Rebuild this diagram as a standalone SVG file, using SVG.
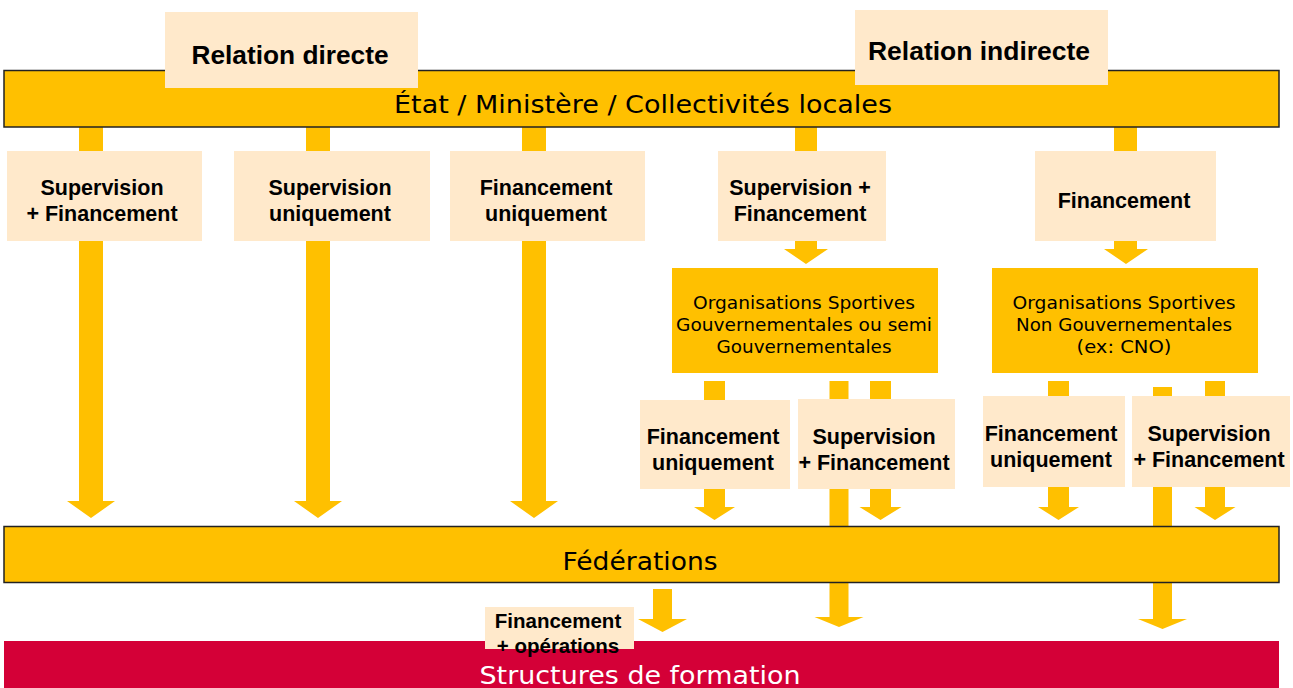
<svg xmlns="http://www.w3.org/2000/svg" width="1293" height="688" viewBox="0 0 1293 688">
<style>
.arr{fill:#FFC000}
.bar{fill:#FFC000;stroke:#222;stroke-width:1.5}
.org{fill:#FFC000}
.lbl{fill:#FFE9CB}
.t{font-family:"Liberation Sans",Arial,sans-serif;font-weight:bold;font-size:21.5px;fill:#000;text-anchor:middle}
.h{font-family:"Liberation Sans",Arial,sans-serif;font-weight:bold;font-size:25px;fill:#000;text-anchor:middle}
.v{font-family:"DejaVu Sans",Verdana,sans-serif;font-size:25px;fill:#000;text-anchor:middle}
.o{font-family:"DejaVu Sans",Verdana,sans-serif;font-size:17px;fill:#000;text-anchor:middle}
</style>
<rect width="1293" height="688" fill="#fff"/>
<g id="connectors">
<polygon class="arr" points="79,127 103,127 103,501 115,501 91,518 67,501 79,501"/>
<polygon class="arr" points="306,127 330,127 330,501 342,501 318,518 294,501 306,501"/>
<polygon class="arr" points="522,127 546,127 546,501 558,501 534,518 510,501 522,501"/>
<polygon class="arr" points="795,127 817,127 817,249 828,249 806,264 784,249 795,249"/>
<polygon class="arr" points="1114,127 1137,127 1137,249 1148,249 1126,264 1104,249 1114,249"/>
<polygon class="arr" points="704,381 725,381 725,507 735,507 714.5,520 694,507 704,507"/>
<polygon class="arr" points="829.5,381 848.5,381 848.5,617 863.5,617 839,627 814.5,617 829.5,617"/>
<polygon class="arr" points="870,381 891,381 891,507 901.5,507 880.5,520 859.5,507 870,507"/>
<polygon class="arr" points="1048,381 1069,381 1069,507 1079,507 1058.5,520 1038,507 1048,507"/>
<polygon class="arr" points="1153,387 1172,387 1172,619 1187,619 1162.5,629 1138,619 1153,619"/>
<polygon class="arr" points="1205,381 1225,381 1225,507 1235.5,507 1215,520 1194.5,507 1205,507"/>
<polygon class="arr" points="653,589 672,589 672,619 687,619 662.5,632 638,619 653,619"/>
</g>
<g id="etat">
<rect class="bar" x="4" y="70.5" width="1275" height="56.5"/>
<text class="v" x="643" y="113" textLength="498" lengthAdjust="spacingAndGlyphs">État / Ministère / Collectivités locales</text>
</g>
<g id="relation-directe">
<rect class="lbl" x="165" y="12" width="253" height="76"/>
<text class="h" x="290" y="64" textLength="197" lengthAdjust="spacingAndGlyphs">Relation directe</text>
</g>
<g id="relation-indirecte">
<rect class="lbl" x="855" y="10" width="253" height="75"/>
<text class="h" x="979" y="60" textLength="222" lengthAdjust="spacingAndGlyphs">Relation indirecte</text>
</g>
<g id="l1">
<rect class="lbl" x="7" y="151" width="195" height="90"/>
<text class="t" x="102" y="195">Supervision</text>
<text class="t" x="102" y="221">+ Financement</text>
</g>
<g id="l2">
<rect class="lbl" x="234" y="151" width="196" height="90"/>
<text class="t" x="330" y="195">Supervision</text>
<text class="t" x="330" y="221">uniquement</text>
</g>
<g id="l3">
<rect class="lbl" x="450" y="151" width="195" height="90"/>
<text class="t" x="546" y="195">Financement</text>
<text class="t" x="546" y="221">uniquement</text>
</g>
<g id="l4">
<rect class="lbl" x="718" y="151" width="168" height="90"/>
<text class="t" x="800" y="195">Supervision +</text>
<text class="t" x="800" y="221">Financement</text>
</g>
<g id="l5">
<rect class="lbl" x="1035" y="151" width="181" height="90"/>
<text class="t" x="1124" y="208">Financement</text>
</g>
<g id="org-gouv">
<rect class="org" x="672" y="268" width="266" height="105"/>
<text class="o" x="804" y="309" textLength="222" lengthAdjust="spacingAndGlyphs">Organisations Sportives</text>
<text class="o" x="804" y="331" textLength="256" lengthAdjust="spacingAndGlyphs">Gouvernementales ou semi</text>
<text class="o" x="804" y="353" textLength="175" lengthAdjust="spacingAndGlyphs">Gouvernementales</text>
</g>
<g id="org-nongouv">
<rect class="org" x="992" y="268" width="266" height="105"/>
<text class="o" x="1124" y="309" textLength="223" lengthAdjust="spacingAndGlyphs">Organisations Sportives</text>
<text class="o" x="1124" y="331" textLength="216" lengthAdjust="spacingAndGlyphs">Non Gouvernementales</text>
<text class="o" x="1124" y="353" textLength="95" lengthAdjust="spacingAndGlyphs">(ex: CNO)</text>
</g>
<g id="s1">
<rect class="lbl" x="640" y="400" width="150" height="89"/>
<text class="t" x="713" y="444">Financement</text>
<text class="t" x="713" y="470">uniquement</text>
</g>
<g id="s2">
<rect class="lbl" x="798" y="399" width="157" height="90"/>
<text class="t" x="874" y="444">Supervision</text>
<text class="t" x="874" y="470">+ Financement</text>
</g>
<g id="s3">
<rect class="lbl" x="983" y="396" width="142" height="91"/>
<text class="t" x="1051" y="441">Financement</text>
<text class="t" x="1051" y="467">uniquement</text>
</g>
<g id="s4">
<rect class="lbl" x="1132" y="396" width="158" height="91"/>
<text class="t" x="1209" y="441">Supervision</text>
<text class="t" x="1209" y="467">+ Financement</text>
</g>
<g id="federations">
<rect class="bar" x="4" y="526.5" width="1275" height="56"/>
<text class="v" x="640" y="570" textLength="155" lengthAdjust="spacingAndGlyphs">Fédérations</text>
</g>
<g id="structures">
<rect x="4" y="641" width="1275" height="47" fill="#D40037"/>
<text class="v" x="640" y="684" style="fill:#fff" textLength="321" lengthAdjust="spacingAndGlyphs">Structures de formation</text>
</g>
<g id="financement-operations">
<rect class="lbl" x="485" y="607" width="149" height="42"/>
<text class="t" x="558" y="628" style="font-size:20.5px">Financement</text>
<text class="t" x="558" y="653" style="font-size:20.5px">+ opérations</text>
</g>
</svg>
